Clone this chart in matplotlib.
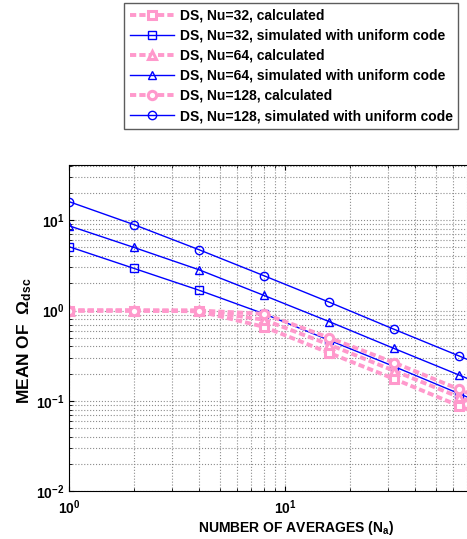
import numpy as np
import matplotlib
matplotlib.use("Agg")
import matplotlib.pyplot as plt

plt.rcParams['font.family'] = ['Liberation Sans', 'DejaVu Sans']
plt.rcParams['font.weight'] = 'bold'
plt.rcParams['mathtext.fontset'] = 'custom'
plt.rcParams['mathtext.rm'] = 'Liberation Sans:bold'
plt.rcParams['mathtext.it'] = 'Liberation Sans:bold'
plt.rcParams['mathtext.bf'] = 'Liberation Sans:bold'

# number of averages (the last point lies past the cropped right edge)
n_avg = [1, 2, 4, 8, 16, 32, 64, 128]

# calculated mean (pink dashed)
calc_32 = [1.0, 1.0, 0.98, 0.66, 0.34, 0.175, 0.088, 0.044]
calc_64 = [1.0, 1.0, 1.0, 0.79, 0.42, 0.215, 0.11, 0.055]
calc_128 = [1.0, 1.0, 1.0, 0.92, 0.50, 0.265, 0.134, 0.067]

# simulated with uniform code (blue)
sim_32 = [5.1, 2.93, 1.68, 0.92, 0.47, 0.24, 0.12, 0.06]
sim_64 = [8.7, 5.0, 2.83, 1.47, 0.755, 0.38, 0.193, 0.097]
sim_128 = [16.1, 8.95, 4.72, 2.43, 1.24, 0.62, 0.314, 0.157]

labels = ['DS, Nu=32, calculated',
          'DS, Nu=32, simulated with uniform code',
          'DS, Nu=64, calculated',
          'DS, Nu=64, simulated with uniform code',
          'DS, Nu=128, calculated',
          'DS, Nu=128, simulated with uniform code']

pink = (1.0, 0.6, 0.8)
blue = (0.0, 0.0, 1.0)

fig = plt.figure(figsize=(4.67, 5.39), dpi=100)
ax = fig.add_axes([69 / 467, 48 / 539, 455 / 467, 326 / 539])

series = [(calc_32, 's', True), (sim_32, 's', False),
          (calc_64, '^', True), (sim_64, '^', False),
          (calc_128, 'o', True), (sim_128, 'o', False)]

handles = []
for (vals, mk, is_calc), lab in zip(series, labels):
    if is_calc:
        h, = ax.plot(n_avg, vals, linestyle=(0, (1.6, 0.8)), color=pink, lw=2.8,
                     marker=mk, ms=6, mfc='white', mec=pink, mew=2.2, label=lab)
    else:
        h, = ax.plot(n_avg, vals, '-', color=blue, lw=1.0,
                     marker=mk, ms=6, mfc='none', mec=blue, mew=1.0, label=lab)
    handles.append(h)

ax.set_xscale('log')
ax.set_yscale('log')
ax.set_xlim(1, 128)
ax.set_ylim(1e-2, 41)
ax.set_xticks([1, 10])

ax.grid(True, which='both', linestyle=':', color='0.55', lw=0.8)
ax.tick_params(which='both', direction='in', top=True, right=True, labelsize=10)
ax.tick_params(axis='x', pad=5)
ax.tick_params(axis='y', pad=3)
for lab in ax.get_xticklabels() + ax.get_yticklabels():
    lab.set_fontweight('bold')

ax.set_xlabel(r'NUMBER OF AVERAGES (N$_a$)', fontsize=10, fontweight='bold',
              labelpad=2)
ax.set_ylabel(r'MEAN OF  $\Omega_{dsc}$', fontsize=12.5, fontweight='bold')
ax.yaxis.set_label_coords(-0.078, 0.46)

leg = fig.legend(handles=handles, labels=labels, loc='upper left',
                 bbox_to_anchor=(124 / 467, 1 - 3 / 539), frameon=True,
                 fancybox=False, edgecolor='0.2', fontsize=10,
                 handlelength=3.2, labelspacing=0.44, borderpad=0.4,
                 handletextpad=0.4, borderaxespad=0)
leg.get_frame().set_linewidth(1.0)
for t in leg.get_texts():
    t.set_fontweight('bold')

fig.savefig('out.png', dpi=100)
